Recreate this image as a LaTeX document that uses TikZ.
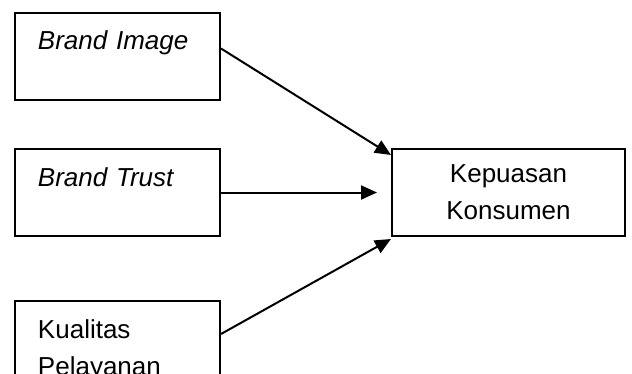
\documentclass[tikz,border=0pt]{standalone}
\usepackage{fontspec}
\setmainfont{Liberation Sans}
\usetikzlibrary{positioning,arrows.meta}

\begin{document}
\begin{tikzpicture}[
      var/.style = {rectangle, draw, line width=1pt, inner xsep=11.5pt, inner ysep=0pt,
                    text width=79.5pt, align=left, text height=18.5pt, text depth=25pt},
      dep/.style = {rectangle, draw, line width=1pt, inner sep=0pt,
                    minimum width=116.5pt, minimum height=43.5pt, align=center},
      arr/.style = {-{Triangle[length=8pt,width=7pt]}, line width=1pt},
      node distance=23.5pt,
      font=\fontsize{13}{18.5}\selectfont
      ]
      \useasboundingbox (0,0) rectangle (316pt,-187pt);
      \node[var, anchor=north west] (bi) at (7pt,-6pt) {\textit{Brand Image}};
      \node[var, below=of bi] (bt) {\textit{Brand Trust}};
      \node[var, text depth=40pt, below=31.5pt of bt] (kp) {Kualitas\\Pelayanan};
      \node[dep, right=85pt of bt] (kk) {Kepuasan\\Konsumen};

      \draw[arr] ([yshift=4pt]bi.east) -- ([yshift=-3.5pt]kk.north west);
      \draw[arr, shorten >=7pt] (bt.east) -- (kk.west);
      \draw[arr] ([yshift=-17pt]kp.north east) -- ([yshift=-1pt]kk.south west);
\end{tikzpicture}
\end{document}
